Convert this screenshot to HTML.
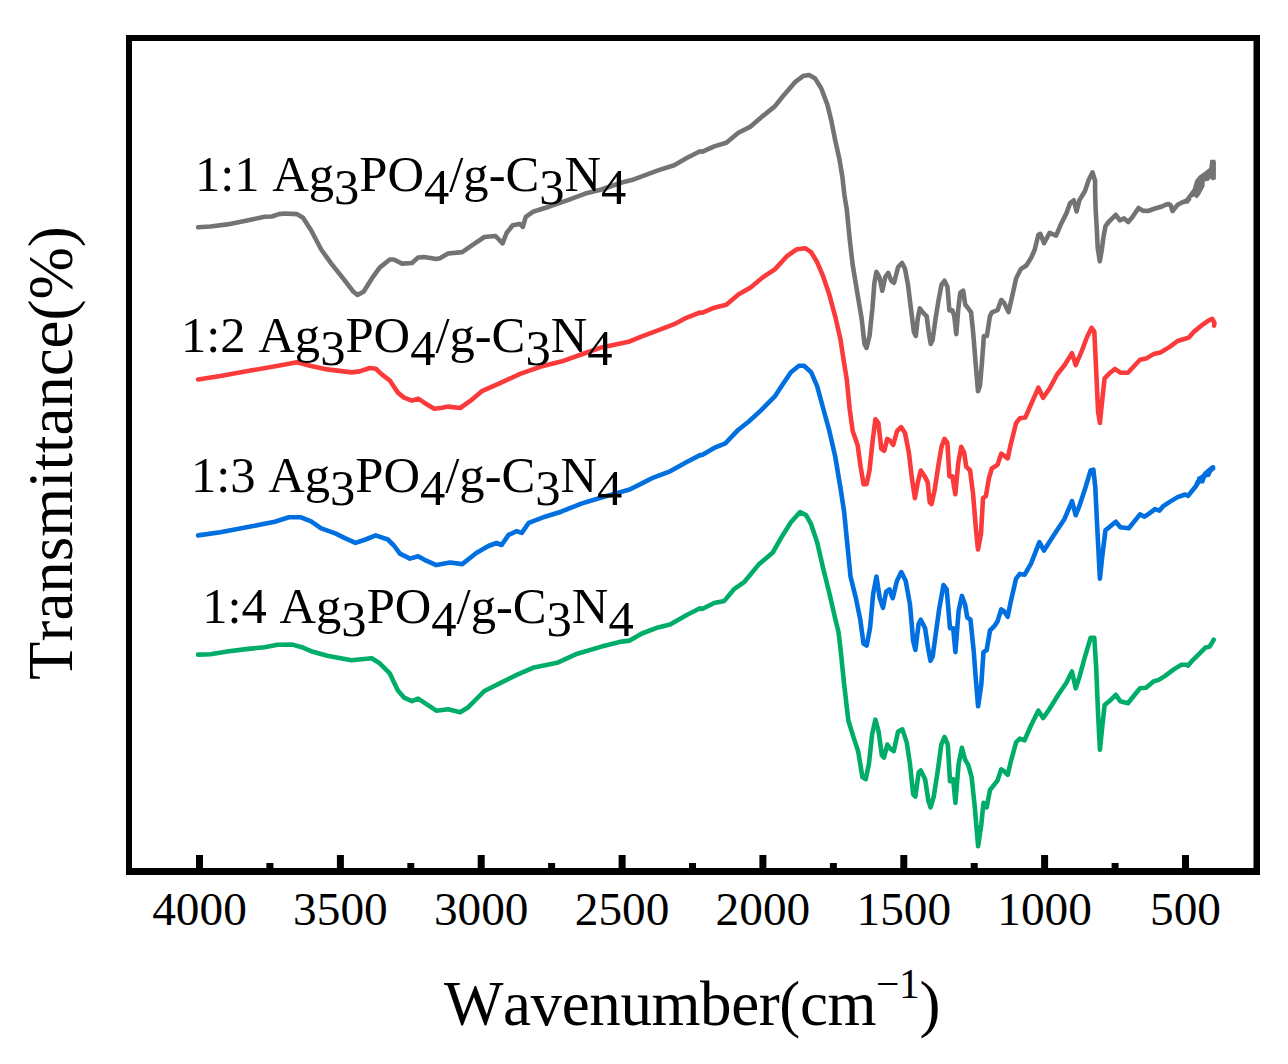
<!DOCTYPE html>
<html><head><meta charset="utf-8"><style>
html,body{margin:0;padding:0;background:#fff;width:1288px;height:1064px;overflow:hidden}
svg{display:block}
text{font-family:"Liberation Serif",serif;fill:#000;font-kerning:none}
</style></head><body>
<svg width="1288" height="1064" viewBox="0 0 1288 1064">
<rect width="1288" height="1064" fill="#fff"/>
<polyline points="198.1,227.3 210.5,226.5 227.3,224.4 245.9,220.7 264.6,216.8 272.0,216.5 278.8,214.1 284.9,213.5 297.0,214.1 303.0,217.8 311.1,230.3 321.2,249.5 331.3,263.6 343.4,278.7 353.5,291.8 357.5,294.9 363.6,291.8 371.7,278.7 379.7,267.6 389.8,259.5 393.9,259.5 402.0,263.6 412.0,263.0 418.1,257.5 424.2,257.1 436.3,258.9 440.0,258.2 448.1,253.5 462.2,252.1 472.3,245.1 484.4,237.0 495.5,236.0 502.6,243.4 506.6,233.0 512.7,225.3 519.7,223.9 522.8,226.9 525.8,216.8 532.9,211.8 549.0,206.7 569.2,199.6 585.3,193.6 601.5,189.5 621.7,182.5 631.8,180.1 641.9,176.4 658.0,170.4 674.2,165.3 686.3,158.3 700.0,151.2 702.1,151.8 714.2,146.4 726.3,142.8 738.4,132.7 750.6,126.6 762.7,116.1 774.8,106.4 782.9,96.3 795.0,82.2 803.0,76.1 809.1,75.1 815.2,78.6 821.2,88.3 827.3,104.4 831.3,120.6 835.3,140.7 839.4,158.9 842.4,177.1 844.4,195.0 846.8,209.7 849.7,239.3 852.7,265.0 857.6,294.6 861.6,318.3 864.5,343.9 866.5,347.9 869.5,336.0 872.4,308.4 874.4,282.8 876.4,271.9 879.3,276.8 882.3,290.7 885.3,276.8 888.2,272.9 891.2,280.8 894.1,282.8 898.1,267.0 902.0,263.0 905.0,268.9 908.0,284.7 910.9,308.4 913.9,332.1 915.8,336.0 917.8,318.3 919.8,308.4 922.8,312.4 926.7,316.3 928.7,332.1 930.7,343.9 932.6,340.0 935.6,318.3 938.5,300.5 941.5,284.7 944.5,280.8 947.4,286.7 949.4,310.4 952.4,310.4 954.3,316.3 956.3,334.1 958.3,308.4 960.3,292.6 963.2,290.7 965.2,304.5 968.2,308.4 971.1,312.4 973.1,332.1 976.0,367.6 978.0,391.3 980.0,385.4 982.0,361.7 983.9,336.0 986.9,336.0 989.9,316.3 991.8,312.4 997.5,310.2 1001.2,300.0 1004.0,302.8 1008.6,312.1 1012.4,295.3 1016.1,278.6 1020.7,269.2 1026.3,265.5 1031.0,258.1 1034.7,249.7 1038.4,234.8 1040.3,233.8 1044.0,243.2 1049.6,232.9 1056.1,235.7 1060.8,224.5 1066.4,213.4 1070.1,203.1 1073.8,200.3 1076.6,211.5 1079.4,200.3 1085.0,191.0 1088.8,179.8 1092.5,172.4 1095.1,180.7 1095.1,191.0 1095.6,208.6 1096.7,227.2 1097.7,247.8 1099.8,261.3 1101.8,249.9 1103.4,237.5 1105.5,226.1 1108.6,222.0 1111.7,218.9 1115.8,214.8 1119.9,220.4 1124.1,218.4 1128.2,222.0 1132.3,217.3 1138.5,208.0 1142.7,210.6 1148.0,211.0 1155.0,208.5 1162.0,206.5 1165.0,205.0 1168.5,204.0 1170.8,205.5 1172.5,211.0 1175.0,208.0 1178.0,204.5 1182.0,202.5 1186.0,201.0 1189.0,199.0" fill="none" stroke="#737373" stroke-width="4.6" stroke-linejoin="round" stroke-linecap="round"/>
<polyline points="198.1,379.5 220.3,376.0 250.6,370.6 280.8,365.3 297.0,362.3 311.1,365.9 327.3,369.4 351.5,372.4 359.6,371.4 369.7,368.0 375.7,368.8 381.8,374.4 389.8,380.5 397.9,392.6 404.0,397.6 412.0,400.7 418.1,398.6 424.2,402.7 434.2,408.7 442.3,407.7 448.1,406.6 460.2,408.0 470.3,400.9 482.4,390.8 500.6,382.8 520.7,373.7 540.9,366.6 561.1,361.6 581.3,354.5 601.5,347.4 629.7,341.4 641.9,336.3 658.0,330.3 674.2,324.2 686.3,317.8 700.0,312.5 702.1,312.8 714.2,307.7 726.3,304.7 738.4,294.6 750.6,287.5 762.7,277.4 774.8,269.4 786.9,256.2 797.0,249.2 805.1,248.2 811.1,252.2 817.2,262.3 823.2,276.4 829.3,294.6 835.3,316.8 840.4,339.0 843.6,360.0 846.8,379.7 849.7,409.3 852.7,431.0 857.6,444.9 860.6,466.6 863.6,484.3 866.5,484.3 869.5,470.5 872.4,442.9 875.4,419.2 878.4,423.2 881.3,448.8 884.3,450.8 887.2,438.9 890.2,440.9 893.2,444.9 897.1,431.0 901.1,427.1 905.0,433.0 908.9,452.8 911.9,478.4 914.9,498.2 917.8,482.4 920.8,470.5 924.7,476.4 927.7,482.4 929.7,502.1 931.6,504.1 934.6,490.3 938.5,464.6 941.5,446.8 944.5,438.9 947.4,442.9 949.4,476.4 952.4,476.4 955.3,494.2 958.3,462.6 961.2,446.8 964.2,452.8 966.2,466.6 970.1,470.5 973.1,494.2 976.0,529.7 978.0,549.5 981.0,533.7 983.0,498.2 985.9,496.2 988.9,478.4 991.8,468.5 997.5,464.9 1001.2,453.7 1004.0,455.6 1007.7,458.4 1010.5,445.3 1016.1,423.0 1019.8,418.3 1025.4,417.4 1031.0,404.3 1038.4,387.6 1043.1,397.8 1049.6,388.5 1057.1,374.5 1064.5,365.2 1072.0,353.1 1075.7,365.2 1081.3,352.2 1086.9,337.3 1091.5,327.9 1094.3,331.7 1096.2,370.8 1098.1,411.8 1099.9,423.0 1101.8,404.3 1104.6,378.3 1109.2,373.6 1114.8,368.9 1120.4,372.7 1127.9,372.7 1140.0,359.8 1146.0,358.6 1153.5,354.1 1160.3,352.6 1170.1,346.6 1177.6,341.0 1185.1,338.7 1188.9,337.6 1194.1,331.6 1202.4,324.8 1207.7,321.1 1212.2,318.8 1214.4,322.6 1214.1,325.6" fill="none" stroke="#fb3b3b" stroke-width="4.6" stroke-linejoin="round" stroke-linecap="round"/>
<polyline points="198.1,535.4 220.3,532.3 250.6,526.6 274.8,521.8 288.9,517.3 301.0,517.3 311.1,521.3 321.2,528.4 335.3,533.4 345.4,538.4 355.5,542.9 365.6,539.5 375.7,535.4 387.8,539.5 393.9,545.5 399.9,553.6 410.0,558.6 418.1,556.2 426.2,560.7 436.3,565.1 450.1,562.5 462.2,564.1 476.3,553.0 488.4,546.0 496.5,543.0 501.6,545.0 508.6,534.9 516.7,531.2 521.8,532.9 528.8,522.8 545.0,516.7 561.1,511.7 581.3,503.6 601.5,497.5 617.6,492.9 629.7,489.5 641.9,483.4 654.0,477.3 670.1,471.3 686.3,462.2 700.0,455.1 702.1,455.0 714.2,447.9 725.3,443.3 738.4,429.7 748.5,421.7 760.7,410.6 774.8,396.4 780.8,387.3 790.9,372.2 799.0,365.7 804.0,365.7 811.1,372.2 817.2,386.3 823.2,408.5 829.3,430.7 835.3,457.0 840.8,490.0 844.1,511.6 847.3,544.0 850.5,576.5 855.9,598.1 860.3,619.7 863.5,643.5 866.7,645.6 870.0,628.3 873.2,593.8 876.5,576.5 879.7,598.1 883.0,607.8 886.2,591.6 889.4,589.4 892.7,598.1 897.0,580.8 901.3,572.1 905.7,580.8 910.0,604.6 913.2,641.3 915.4,650.0 918.6,624.0 920.8,619.7 925.1,628.3 928.4,650.0 930.5,660.8 932.7,656.4 935.9,632.7 939.2,608.9 943.5,585.1 946.7,589.4 950.0,628.3 953.2,628.3 955.4,652.1 958.6,611.1 961.9,595.9 965.1,604.6 967.3,617.5 970.5,619.7 973.8,652.1 975.9,680.2 978.1,706.2 981.3,684.6 983.5,652.1 986.7,650.0 990.0,630.5 994.3,626.2 997.5,621.4 1001.2,609.3 1004.0,611.2 1007.7,616.8 1010.5,602.8 1016.1,578.6 1019.8,573.9 1024.5,574.8 1031.0,563.7 1039.4,542.2 1044.0,550.6 1053.4,535.7 1064.5,518.9 1072.0,501.2 1075.7,515.2 1079.4,505.9 1085.0,489.1 1090.6,470.5 1093.4,469.6 1095.3,487.3 1097.1,524.5 1099.9,578.6 1102.7,552.5 1105.5,530.1 1109.2,527.3 1115.8,521.7 1120.4,527.3 1128.8,528.3 1140.0,514.4 1144.5,516.7 1149.0,513.6 1155.0,509.1 1159.5,510.6 1163.3,506.1 1170.1,501.6 1177.6,497.1 1185.1,494.5 1188.1,495.8 1192.6,490.3 1196.0,486.0 1198.0,481.5 1201.0,478.5 1204.0,475.5 1208.0,471.0 1212.9,467.4" fill="none" stroke="#006fe0" stroke-width="4.6" stroke-linejoin="round" stroke-linecap="round"/>
<polyline points="198.1,654.6 210.5,654.2 227.3,651.6 245.9,649.1 264.6,647.2 277.6,644.8 292.5,644.6 301.8,647.2 311.1,651.2 327.3,655.8 351.5,660.3 361.6,659.3 371.7,658.3 379.7,663.3 389.8,673.4 397.9,690.6 404.0,697.6 412.0,701.1 418.1,698.6 424.2,702.7 436.3,710.7 448.1,709.2 460.2,712.2 468.3,707.2 484.4,691.0 500.6,682.9 516.7,674.9 532.9,667.8 557.1,662.8 577.3,653.7 601.5,646.6 621.7,641.6 629.7,640.6 641.9,633.5 658.0,627.4 670.1,624.4 686.3,615.3 700.0,608.3 702.1,609.0 714.2,603.0 724.3,600.9 734.4,588.8 744.5,581.8 758.6,564.6 772.8,552.5 780.8,538.4 790.9,522.2 800.0,512.1 806.1,515.1 811.1,524.2 817.2,542.4 823.2,568.6 829.3,592.9 835.3,619.1 838.5,632.0 840.8,651.6 844.1,684.0 848.4,720.8 853.8,738.1 858.1,751.1 862.4,777.0 865.7,779.2 868.9,764.0 872.2,733.8 875.4,719.7 878.6,731.6 881.9,755.4 884.0,757.5 887.3,744.6 890.5,748.9 893.8,751.1 898.1,731.6 902.4,729.4 906.7,742.4 910.0,764.0 913.2,794.3 915.4,796.5 918.6,772.7 920.8,770.5 925.1,779.2 928.4,800.8 930.5,807.3 933.8,796.5 938.1,768.3 941.3,744.6 944.6,737.0 947.8,744.6 950.0,781.3 953.2,779.2 955.4,802.9 958.6,764.0 961.9,747.8 965.1,759.7 968.3,765.1 971.6,777.0 974.8,807.3 978.1,846.2 981.3,824.6 983.5,802.9 986.7,807.3 990.0,790.0 994.3,784.6 997.5,780.5 1001.2,769.3 1004.0,771.2 1007.7,774.9 1010.5,762.8 1016.1,742.3 1019.8,738.6 1024.5,740.4 1031.0,725.5 1038.4,710.6 1043.1,718.1 1049.6,708.8 1058.9,693.8 1066.4,682.7 1072.0,671.5 1075.7,688.3 1079.4,677.1 1085.0,656.6 1090.6,637.9 1094.3,637.9 1096.2,667.8 1098.1,714.3 1099.9,749.7 1101.8,731.1 1104.6,705.0 1109.2,701.3 1115.8,694.8 1120.4,701.3 1127.9,703.2 1140.0,688.2 1146.0,687.8 1153.5,681.4 1158.8,679.9 1164.8,676.1 1173.8,669.4 1181.4,664.8 1186.6,664.8 1188.1,665.6 1192.6,660.3 1200.2,652.8 1205.4,647.6 1209.2,646.8 1211.4,643.8 1213.7,639.7" fill="none" stroke="#00ad68" stroke-width="4.6" stroke-linejoin="round" stroke-linecap="round"/>
<polygon points="1186.0,198.1 1188.1,195.1 1192.6,189.1 1195.3,180.1 1199.4,175.2 1203.9,172.2 1209.2,168.0 1210.3,159.8 1215.2,159.8 1215.9,161.7 1215.9,179.3 1212.2,180.5 1210.3,178.2 1209.2,180.5 1204.7,181.6 1204.7,186.1 1200.2,194.4 1197.1,198.5 1194.1,196.6 1191.1,198.1 1188.9,203.4 1184.4,203.8" fill="#737373"/>
<polygon points="1197.0,477.0 1202.0,475.0 1203.9,471.2 1206.9,471.2 1211.4,465.5 1214.5,465.5 1215.5,469.3 1212.0,472.3 1209.9,476.8 1206.2,477.6 1203.9,483.6 1200.2,483.6 1198.0,487.0" fill="#006fe0"/>

<g fill="#000">
<rect x="126" y="35" width="1134" height="6"/>
<rect x="126" y="868" width="1134" height="7"/>
<rect x="126" y="35" width="6" height="840"/>
<rect x="1253.5" y="35" width="6.5" height="840"/>
<rect x="196.0" y="855" width="7" height="14"/>
<rect x="266.4" y="863" width="7" height="6"/>
<rect x="336.9" y="855" width="7" height="14"/>
<rect x="407.3" y="863" width="7" height="6"/>
<rect x="477.7" y="855" width="7" height="14"/>
<rect x="548.1" y="863" width="7" height="6"/>
<rect x="618.6" y="855" width="7" height="14"/>
<rect x="689.0" y="863" width="7" height="6"/>
<rect x="759.4" y="855" width="7" height="14"/>
<rect x="829.9" y="863" width="7" height="6"/>
<rect x="900.3" y="855" width="7" height="14"/>
<rect x="970.7" y="863" width="7" height="6"/>
<rect x="1041.1" y="855" width="7" height="14"/>
<rect x="1111.6" y="863" width="7" height="6"/>
<rect x="1182.0" y="855" width="7" height="14"/>

</g>
<g font-size="45.5">
<text transform="translate(199.5,925) scale(1.04,1)" text-anchor="middle">4000</text>
<text transform="translate(340.4,925) scale(1.04,1)" text-anchor="middle">3500</text>
<text transform="translate(481.2,925) scale(1.04,1)" text-anchor="middle">3000</text>
<text transform="translate(622.1,925) scale(1.04,1)" text-anchor="middle">2500</text>
<text transform="translate(762.9,925) scale(1.04,1)" text-anchor="middle">2000</text>
<text transform="translate(903.8,925) scale(1.04,1)" text-anchor="middle">1500</text>
<text transform="translate(1044.6,925) scale(1.04,1)" text-anchor="middle">1000</text>
<text transform="translate(1185.5,925) scale(1.04,1)" text-anchor="middle">500</text>

</g>
<g font-size="50.6">
<text x="194.9" y="191" word-spacing="0">1:1 Ag<tspan dy="13">3</tspan><tspan dy="-13">PO</tspan><tspan dy="13">4</tspan><tspan dy="-13">/g-C</tspan><tspan dy="13">3</tspan><tspan dy="-13">N</tspan><tspan dy="13">4</tspan></text>
<text x="181" y="352" word-spacing="0">1:2 Ag<tspan dy="13">3</tspan><tspan dy="-13">PO</tspan><tspan dy="13">4</tspan><tspan dy="-13">/g-C</tspan><tspan dy="13">3</tspan><tspan dy="-13">N</tspan><tspan dy="13">4</tspan></text>
<text x="190.9" y="492" word-spacing="0">1:3 Ag<tspan dy="13">3</tspan><tspan dy="-13">PO</tspan><tspan dy="13">4</tspan><tspan dy="-13">/g-C</tspan><tspan dy="13">3</tspan><tspan dy="-13">N</tspan><tspan dy="13">4</tspan></text>
<text x="202.2" y="623" word-spacing="0">1:4 Ag<tspan dy="13">3</tspan><tspan dy="-13">PO</tspan><tspan dy="13">4</tspan><tspan dy="-13">/g-C</tspan><tspan dy="13">3</tspan><tspan dy="-13">N</tspan><tspan dy="13">4</tspan></text>

</g>
<text x="444" y="1024.5" font-size="63" letter-spacing="-0.4">Wavenumber(cm<tspan dy="-26.5" font-size="41.5">−1</tspan><tspan dy="26.5">)</tspan></text>
<text transform="translate(72,679.9) rotate(-90)" font-size="62.83">Transmittance(%)</text>
</svg>
</body></html>
